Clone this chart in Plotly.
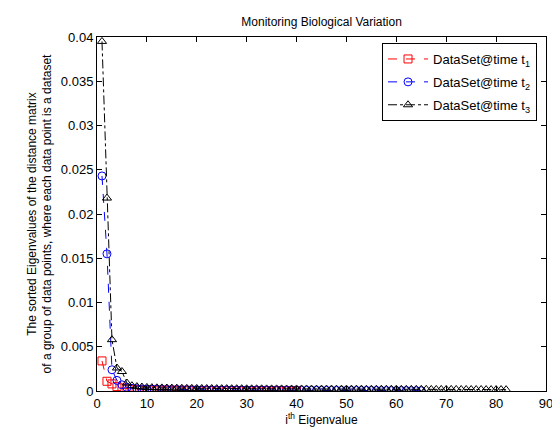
import plotly.graph_objects as go

# Eigenvalues (sorted) for each dataset
t1_vals = [0.0034, 0.0011, 0.0008, 0.0005, 0.00035, 0.00025, 0.0002, 0.00016, 0.00014, 0.00012,
           0.00011, 0.0001, 0.00009, 0.00009, 0.00008, 0.00008, 0.00007, 0.00007, 0.00007, 0.00006,
           0.00006, 0.00006, 0.00006, 0.00005, 0.00005, 0.00005, 0.00005, 0.00005, 0.00004, 0.00004,
           0.00004, 0.00004, 0.00004, 0.00004, 0.00003, 0.00003, 0.00003, 0.00003, 0.00003, 0.00003]

t2_vals = [0.0243, 0.0155, 0.0024, 0.0012, 0.0007, 0.0004, 0.0003, 0.00026, 0.00023, 0.0002,
           0.00019, 0.00018, 0.00017, 0.00016, 0.00015, 0.00015, 0.00014, 0.00014, 0.00013, 0.00013,
           0.00012, 0.00012, 0.00012, 0.00011, 0.00011, 0.00011, 0.0001, 0.0001, 0.0001, 0.0001,
           0.00009, 0.00009, 0.00009, 0.00009, 0.00008, 0.00008, 0.00008, 0.00008, 0.00008, 0.00007,
           0.00007, 0.00007, 0.00007, 0.00007, 0.00006, 0.00006, 0.00006, 0.00006, 0.00006, 0.00006,
           0.00005, 0.00005, 0.00005, 0.00005, 0.00005, 0.00005, 0.00004, 0.00004, 0.00004, 0.00004,
           0.00004, 0.00004, 0.00003, 0.00003, 0.00003]

t3_vals = [0.0395, 0.0218, 0.0058, 0.0026, 0.0022, 0.0009, 0.0006, 0.0005, 0.00045, 0.0004,
           0.00038, 0.00036, 0.00035, 0.00034, 0.00033, 0.00032, 0.00031, 0.0003, 0.0003, 0.00029,
           0.00029, 0.00028, 0.00028, 0.00027, 0.00027, 0.00027, 0.00026, 0.00026, 0.00026, 0.00025,
           0.00025, 0.00025, 0.00025, 0.00024, 0.00024, 0.00024, 0.00024, 0.00023, 0.00023, 0.00023,
           0.00023, 0.00023, 0.00022, 0.00022, 0.00022, 0.00022, 0.00022, 0.00021, 0.00021, 0.00021,
           0.00021, 0.00021, 0.00021, 0.0002, 0.0002, 0.0002, 0.0002, 0.0002, 0.0002, 0.0002,
           0.00019, 0.00019, 0.00019, 0.00019, 0.00019, 0.00019, 0.00018, 0.00018, 0.00018, 0.00018,
           0.00018, 0.00018, 0.00017, 0.00017, 0.00017, 0.00017, 0.00017, 0.00016, 0.00016, 0.00016,
           0.00016, 0.00015]

series_names = ["DataSet@time t<sub>1</sub>", "DataSet@time t<sub>2</sub>", "DataSet@time t<sub>3</sub>"]

x_ticks = [0, 10, 20, 30, 40, 50, 60, 70, 80, 90]
y_ticks = [0, 0.005, 0.01, 0.015, 0.02, 0.025, 0.03, 0.035, 0.04]
y_tick_text = ["0", "0.005", "0.01", "0.015", "0.02", "0.025", "0.03", "0.035", "0.04"]

FONT = "Liberation Sans, Arial, Helvetica, sans-serif"

fig = go.Figure()
styles = [
    (t1_vals, "#ff0000", "dash", "square-open"),
    (t2_vals, "#0000ff", "dash", "circle-open"),
    (t3_vals, "#000000", "dashdot", "triangle-up-open"),
]
for i, ((vals, col, dash, sym), name) in enumerate(zip(styles, series_names)):
    fig.add_trace(go.Scatter(
        x=list(range(1, len(vals) + 1)), y=vals, name=name,
        mode="lines+markers", legendgroup=f"g{i}",
        line=dict(color=col, width=1, dash=dash),
        marker=dict(symbol=sym, size=8, color=col, line=dict(width=1, color=col)),
    ))

axis_common = dict(showline=True, linecolor="black", linewidth=1, mirror="ticks",
                   ticks="inside", ticklen=5, tickcolor="black", showgrid=False,
                   zeroline=False, tickfont=dict(size=13, color="black", family=FONT))

fig.update_layout(
    width=560, height=430,
    margin=dict(l=89, r=22, t=29, b=47),
    paper_bgcolor="white", plot_bgcolor="white",
    font=dict(family=FONT, size=12, color="black"),
    title=dict(text="Monitoring Biological Variation", x=0.56, xanchor="center",
               y=0.968, yanchor="middle", font=dict(size=12, color="black")),
    xaxis=dict(range=[0, 90], tickvals=x_ticks,
               title=dict(text="i<sup>th</sup> Eigenvalue", standoff=3, font=dict(size=12)),
               **axis_common),
    yaxis=dict(range=[0, 0.04], tickvals=y_ticks, ticktext=y_tick_text,
               title=dict(text="The sorted Eigenvalues of the distance matrix<br>of a group of data points, where each data point is a dataset",
                          standoff=6, font=dict(size=12)),
               **axis_common),
    legend=dict(x=0.98, y=0.983, xanchor="right", yanchor="top",
                bgcolor="white", bordercolor="black", borderwidth=1,
                font=dict(size=13, color="black"), itemwidth=40,
                tracegroupgap=3),
    showlegend=True,
)

fig.write_html("out.html")
